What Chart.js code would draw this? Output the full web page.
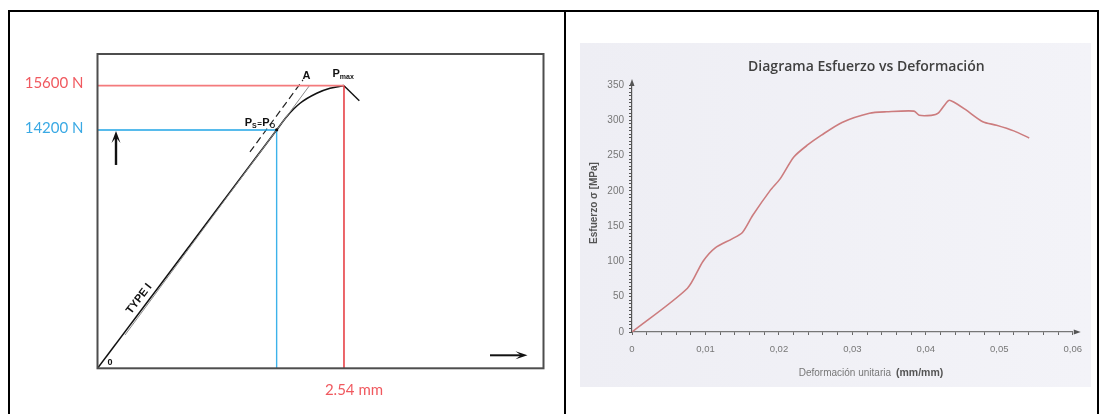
<!DOCTYPE html>
<html lang="es">
<head>
<meta charset="utf-8">
<title>Ensayo de tracción</title>
<script src="https://cdn.jsdelivr.net/npm/chart.js@4.4.1/dist/chart.umd.min.js"></script>
<style>
  html, body { margin: 0; padding: 0; background: #fff; }
  body { width: 1101px; height: 414px; position: relative; overflow: hidden; }
  .rule { position: absolute; background: #000; }
  #load-chart { position: absolute; left: 10px; top: 12px; width: 553px; height: 402px; }
  #stress-chart { position: absolute; left: 580px; top: 43px; width: 511px; height: 344px; filter: blur(0.7px); }
</style>
</head>
<body>
<!-- table rules -->
<div class="rule" style="left:8px;top:10px;width:1091px;height:2px"></div>
<div class="rule" style="left:8px;top:10px;width:2px;height:404px"></div>
<div class="rule" style="left:564px;top:10px;width:2px;height:404px"></div>
<div class="rule" style="left:1097px;top:10px;width:2px;height:404px"></div>

<canvas id="load-chart" width="553" height="402"></canvas>
<canvas id="stress-chart" width="511" height="344"></canvas>

<script>
// ===== Load / displacement sketch (left) =====
const loadMin = 6670;          // load at the origin of the frame
const loadMax = 16600;
const dispMax = 4.596;

const loadTicks = [14200, 15600];
const loadTickColors = { 14200: '#3aa9e4', 15600: '#f0595f' };
const dispTicks = [2.54];

const yieldDisp = 1.846;       // P_S = P_O
const yieldLoad = 14200;
const peakDisp = 2.54;         // P_max
const peakLoad = 15600;

// elastic stretch, curved part up to P_max, and the drop after it
const elasticDisp = [0, 1.846];
const elasticLoad = [6670, 14200];
const plasticDisp = [1.846, 1.949, 2.087, 2.259, 2.396, 2.54];
const plasticLoad = [14200, 14620, 15044, 15360, 15518, 15600];
const dropDisp = [2.54, 2.698];
const dropLoad = [15600, 15126];

// dashed extension to A and the thin secant
const tangentDisp = [1.571, 2.117];
const tangentLoad = [13505, 15780];
const secantDisp = [0.283, 2.182];
const secantLoad = [7721, 15591];

// ===== Stress / strain test (right) =====
const strain = [0, 0.00755, 0.00965, 0.01129, 0.01362, 0.01503, 0.01642, 0.01877, 0.02016,
  0.02203, 0.0239, 0.02579, 0.02859, 0.03233, 0.03466, 0.0384, 0.0391, 0.04074, 0.04168,
  0.04308, 0.04378, 0.04542, 0.04775, 0.04962, 0.05197, 0.05407];
const stress = [0, 62, 100, 119, 132, 141, 165, 200, 217,
  248, 265, 279, 297, 310, 312, 313, 307, 307, 310,
  328, 326, 315, 298, 293, 285, 275];

const strainLabels = ['0', '0,01', '0,02', '0,03', '0,04', '0,05', '0,06'];
const stressLabels = ['0', '50', '100', '150', '200', '250', '300', '350'];

const toPoints = (xs, ys) => xs.map((v, i) => ({ x: v, y: ys[i] }));

function line(data, color, width, extra) {
  return Object.assign({
    data, borderColor: color, borderWidth: width,
    showLine: true, pointRadius: 0, fill: false, tension: 0,
  }, extra || {});
}

// arrow with a swept-back filled head
function drawArrow(ctx, x1, y1, x2, y2, head, half) {
  const a = Math.atan2(y2 - y1, x2 - x1);
  const c = Math.cos(a), s = Math.sin(a);
  ctx.beginPath();
  ctx.moveTo(x1, y1);
  ctx.lineTo(x2 - c * head * 0.5, y2 - s * head * 0.5);
  ctx.stroke();
  ctx.beginPath();
  ctx.moveTo(x2, y2);
  ctx.lineTo(x2 - c * head - s * half, y2 - s * head + c * half);
  ctx.lineTo(x2 - c * head * 0.55, y2 - s * head * 0.55);
  ctx.lineTo(x2 - c * head + s * half, y2 - s * head - c * half);
  ctx.closePath();
  ctx.fill();
}

// "P" followed by a subscript
function drawSub(ctx, x, y, main, sub) {
  ctx.font = 'bold 11px "Liberation Sans"';
  ctx.fillText(main, x, y);
  const w = ctx.measureText(main).width;
  ctx.font = 'bold 7px "Liberation Sans"';
  ctx.fillText(sub, x + w, y + 1.5);
  return x + w + ctx.measureText(sub).width;
}

// --- Frame, point names, arrows of the sketch ---
const sketchMarks = {
  id: 'sketchMarks',
  afterDraw(chart) {
    const { ctx, chartArea: area, scales: { x, y } } = chart;
    ctx.save();

    ctx.strokeStyle = '#4d4d4d';
    ctx.lineWidth = 2;
    ctx.strokeRect(area.left, area.top, area.right - area.left, area.bottom - area.top);

    ctx.fillStyle = '#111';
    ctx.strokeStyle = '#111';
    ctx.textAlign = 'left';
    ctx.textBaseline = 'alphabetic';

    // P_max
    const pxPeak = x.getPixelForValue(peakDisp);
    const pyPeak = y.getPixelForValue(peakLoad);
    drawSub(ctx, pxPeak - 11.5, pyPeak - 8.5, 'P', 'max');

    // A, at the top of the dashed extension
    ctx.font = 'bold 11px "Liberation Sans"';
    ctx.textAlign = 'center';
    ctx.fillText('A', x.getPixelForValue(tangentDisp[1]) + 3.5, y.getPixelForValue(tangentLoad[1]) - 1);

    // P_S = P_O
    ctx.textAlign = 'left';
    const pxYield = x.getPixelForValue(yieldDisp);
    const pyYield = y.getPixelForValue(yieldLoad);
    let cx = drawSub(ctx, pxYield - 32, pyYield - 3.5, 'P', 'S');
    ctx.font = 'bold 8px "Liberation Sans"';
    ctx.fillText('=', cx + 0.5, pyYield - 4);
    cx += 0.5 + ctx.measureText('=').width + 0.5;
    drawSub(ctx, cx, pyYield - 3.5, 'P', 'O');
    ctx.beginPath();
    ctx.arc(pxYield, pyYield, 1.6, 0, Math.PI * 2);
    ctx.fill();

    // TYPE I along the elastic line
    const x0 = x.getPixelForValue(elasticDisp[0]), y0 = y.getPixelForValue(elasticLoad[0]);
    const x1 = x.getPixelForValue(elasticDisp[1]), y1 = y.getPixelForValue(elasticLoad[1]);
    const ang = Math.atan2(y1 - y0, x1 - x0);
    ctx.save();
    ctx.translate(x0 + (x1 - x0) * 0.27, y0 + (y1 - y0) * 0.27);
    ctx.rotate(ang);
    ctx.font = 'bold 11px "Liberation Sans"';
    ctx.textAlign = 'center';
    ctx.textBaseline = 'bottom';
    ctx.fillText('TYPE I', 0, -3);
    ctx.restore();

    // origin
    ctx.font = 'bold 9px "Liberation Sans"';
    ctx.textAlign = 'center';
    ctx.textBaseline = 'middle';
    ctx.fillText('0', area.left + 12.5, area.bottom - 6);

    // load and displacement arrows
    ctx.lineWidth = 2.4;
    drawArrow(ctx, area.left + 18.5, pyYield + 35, area.left + 18.5, pyYield + 1, 12, 4.5);
    ctx.lineWidth = 2;
    drawArrow(ctx, area.right - 53.5, area.bottom - 13, area.right - 16, area.bottom - 13, 12, 4);

    ctx.restore();
  },
};

new Chart(document.getElementById('load-chart'), {
  type: 'scatter',
  data: {
    datasets: [
      line(toPoints([0, peakDisp], [peakLoad, peakLoad]), '#f47a7c', 1.6),
      line(toPoints([peakDisp, peakDisp], [peakLoad, loadMin]), '#e3262c', 1.4),
      line(toPoints([0, yieldDisp], [yieldLoad, yieldLoad]), '#1fa4e6', 1.6),
      line(toPoints([yieldDisp, yieldDisp], [yieldLoad, loadMin]), '#3cb2ea', 1.4),
      line(toPoints(secantDisp, secantLoad), '#8a8a8a', 1),
      line(toPoints(tangentDisp, tangentLoad), '#222', 1.2, { borderDash: [7, 4] }),
      line(toPoints(elasticDisp, elasticLoad), '#111', 1.6),
      line(toPoints(plasticDisp, plasticLoad), '#111', 1.6, { cubicInterpolationMode: 'monotone' }),
      line(toPoints(dropDisp, dropLoad), '#111', 1.4),
    ],
  },
  options: {
    responsive: false,
    animation: false,
    events: [],
    layout: { padding: { top: 42, right: 19.5, left: 0, bottom: 0 } },
    plugins: { legend: { display: false }, tooltip: { enabled: false } },
    scales: {
      x: {
        type: 'linear',
        min: 0,
        max: dispMax,
        afterFit: (s) => { s.height = 45.7; },
        afterBuildTicks: (s) => { s.ticks = dispTicks.map((v) => ({ value: v })); },
        grid: { display: false },
        border: { display: false },
        ticks: {
          callback: (v) => v.toFixed(2) + ' mm',
          color: '#f0595f',
          font: { family: 'Lato', size: 15 },
          padding: 5,
          labelOffset: 10,
          maxRotation: 0,
          autoSkip: false,
        },
      },
      y: {
        type: 'linear',
        min: loadMin,
        max: loadMax,
        afterFit: (s) => { s.width = 87.5; },
        afterBuildTicks: (s) => { s.ticks = loadTicks.map((v) => ({ value: v })); },
        grid: { display: false },
        border: { display: false },
        ticks: {
          callback: (v) => v + ' N',
          color: (c) => loadTickColors[c.tick.value],
          font: { family: 'Lato', size: 15 },
          padding: 6,
          labelOffset: -2,
          autoSkip: false,
        },
      },
    },
  },
  plugins: [sketchMarks],
});

// ===== Stress / strain chart =====
const strainTickValues = [];
for (let i = 0; i <= 30; i++) strainTickValues.push(+(i * 0.002).toFixed(3));
const stressTickValues = [];
for (let v = 0; v <= 350; v += 5) stressTickValues.push(v);

const stressDecor = {
  id: 'stressDecor',
  beforeDraw(chart) {
    const { ctx, width, height } = chart;
    const g = ctx.createLinearGradient(0, 0, width, 0);
    g.addColorStop(0, '#eeeef4');
    g.addColorStop(1, '#f3f3f8');
    ctx.save();
    ctx.fillStyle = g;
    ctx.fillRect(0, 0, width, height);
    ctx.restore();
  },
  afterDraw(chart) {
    const { ctx, chartArea: area } = chart;
    ctx.save();

    // title
    ctx.fillStyle = '#404040';
    ctx.font = '600 14px "Open Sans"';
    ctx.textAlign = 'center';
    ctx.textBaseline = 'middle';
    ctx.fillText('Diagrama Esfuerzo vs Deformación', (area.left + area.right) / 2 + 14, area.top - 18);

    // axis arrows
    ctx.fillStyle = '#555';
    ctx.beginPath();
    ctx.moveTo(area.left, area.top - 6);
    ctx.lineTo(area.left - 2.5, area.top + 1);
    ctx.lineTo(area.left + 2.5, area.top + 1);
    ctx.closePath();
    ctx.fill();
    ctx.beginPath();
    ctx.moveTo(area.right + 8, area.bottom);
    ctx.lineTo(area.right + 1, area.bottom - 2.5);
    ctx.lineTo(area.right + 1, area.bottom + 2.5);
    ctx.closePath();
    ctx.fill();

    // x axis title, unit in bold
    const xt = 'Deformación unitaria';
    const ut = '(mm/mm)';
    ctx.textBaseline = 'middle';
    ctx.textAlign = 'left';
    ctx.font = '10px "Liberation Sans"';
    const w1 = ctx.measureText(xt).width;
    ctx.font = 'bold 10.5px "Liberation Sans"';
    const w2 = ctx.measureText(ut).width;
    const start = area.left + 256 - (w1 + 5 + w2) / 2 - 17;
    ctx.font = '10px "Liberation Sans"';
    ctx.fillStyle = '#777';
    ctx.fillText(xt, start, area.bottom + 41);
    ctx.font = 'bold 10.5px "Liberation Sans"';
    ctx.fillStyle = '#555';
    ctx.fillText(ut, start + w1 + 5, area.bottom + 41);

    // y axis title
    ctx.save();
    ctx.translate(14, area.top + 118);
    ctx.rotate(-Math.PI / 2);
    ctx.textAlign = 'center';
    ctx.font = 'bold 10px "Liberation Sans"';
    ctx.fillStyle = '#555';
    ctx.fillText('Esfuerzo σ [MPa]', 0, 0);
    ctx.restore();

    ctx.restore();
  },
};

new Chart(document.getElementById('stress-chart'), {
  type: 'scatter',
  data: {
    datasets: [
      line(toPoints(strain, stress), '#cc7c7e', 1.6, { tension: 0.25 }),
    ],
  },
  options: {
    responsive: false,
    animation: false,
    events: [],
    layout: { padding: { top: 42, right: 17, left: 0, bottom: 0 } },
    plugins: { legend: { display: false }, tooltip: { enabled: false } },
    scales: {
      x: {
        type: 'linear',
        min: 0,
        max: 0.06,
        afterFit: (s) => { s.height = 55; },
        afterBuildTicks: (s) => { s.ticks = strainTickValues.map((v) => ({ value: v })); },
        grid: { drawOnChartArea: false, drawTicks: true, tickLength: 3, color: '#666', lineWidth: 1 },
        border: { display: true, color: '#777', width: 1.2, dash: [5, 3] },
        ticks: {
          callback: (v) => {
            const k = Math.round(v * 100);
            return Math.abs(v * 100 - k) < 1e-6 ? strainLabels[k] : '';
          },
          color: '#777',
          font: { family: 'Liberation Sans', size: 9.5 },
          padding: 9,
          maxRotation: 0,
          autoSkip: false,
        },
      },
      y: {
        type: 'linear',
        min: 0,
        max: 350,
        afterFit: (s) => { s.width = 52; },
        afterBuildTicks: (s) => { s.ticks = stressTickValues.map((v) => ({ value: v })); },
        grid: { drawOnChartArea: false, drawTicks: true, tickLength: 3, color: '#555', lineWidth: 1 },
        border: { display: true, color: '#555', width: 1.2 },
        ticks: {
          callback: (v) => (v % 50 === 0 ? stressLabels[v / 50] : ''),
          color: '#777',
          font: { family: 'Liberation Sans', size: 10 },
          padding: 5,
          autoSkip: false,
        },
      },
    },
  },
  plugins: [stressDecor],
});
</script>
</body>
</html>
